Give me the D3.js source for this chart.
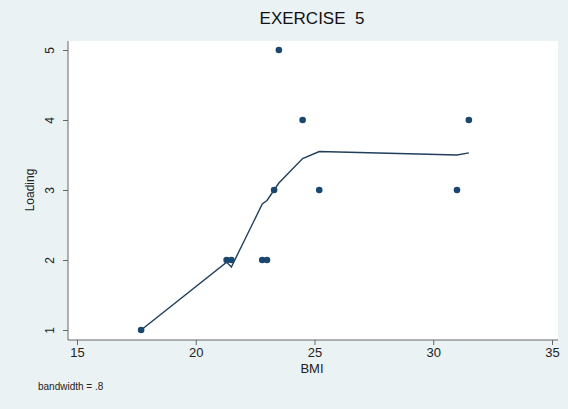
<!DOCTYPE html>
<html><head><meta charset="utf-8">
<script src="https://cdn.jsdelivr.net/npm/d3@7"></script>
<style>body{margin:0;background:#eaf2f4;} svg{display:block;font-family:"Liberation Sans",Arial,sans-serif;}</style>
</head><body>
<svg id="c" width="568" height="409"></svg>
<script>
const bmi =     [17.7, 21.3, 21.5, 22.8, 23.0, 23.3, 23.5, 24.5, 25.2, 31.0, 31.5];
const loading = [1,    2,    2,    2,    2,    3,    5,    4,    3,    3,    4];
const smooth =  [1.0,  1.97, 1.9,  2.8,  2.85, 3.0,  3.1,  3.45, 3.55, 3.5,  3.53];
const xTicks = [15, 20, 25, 30, 35];
const yTicks = [1, 2, 3, 4, 5];

const svg = d3.select("#c");
const x = d3.scaleLinear().domain([15, 35]).range([77, 552]);
const y = d3.scaleLinear().domain([1, 5]).range([330, 50]);

svg.append("rect").attr("width",568).attr("height",409).attr("fill","#eaf2f4");
svg.append("rect").attr("x",68).attr("y",41).attr("width",490).attr("height",299).attr("fill","#ffffff");

svg.append("text").attr("x",312).attr("y",24).attr("text-anchor","middle")
  .style("white-space","pre")
  .attr("font-size",17).attr("fill","#111").text("EXERCISE  5");

const ya = svg.append("g").attr("transform","translate(68,0)")
  .call(d3.axisLeft(y).tickValues(yTicks).tickSize(5).tickFormat(d3.format("d")));
ya.select(".domain").attr("stroke","#666").attr("d","M0,41V340");
ya.selectAll(".tick line").attr("stroke","#666");
ya.selectAll(".tick text").attr("font-size",12).attr("fill","#222")
  .attr("transform","rotate(-90)").attr("x",0).attr("y",-18).attr("dy","0.35em").attr("text-anchor","middle");

const xa = svg.append("g").attr("transform","translate(0,340)")
  .call(d3.axisBottom(x).tickValues(xTicks).tickSize(5).tickFormat(d3.format("d")));
xa.select(".domain").attr("stroke","#666").attr("d","M68,0H558");
xa.selectAll(".tick line").attr("stroke","#666");
xa.selectAll(".tick text").attr("font-size",13).attr("fill","#222").attr("y",8);

svg.append("text").attr("x",312).attr("y",373).attr("text-anchor","middle")
  .attr("font-size",13).attr("fill","#222").text("BMI");
svg.append("text").attr("transform","translate(34,190) rotate(-90)").attr("text-anchor","middle")
  .attr("font-size",12).attr("fill","#222").text("Loading");
svg.append("text").attr("x",38).attr("y",390).attr("font-size",10).attr("fill","#222").text("bandwidth = .8");

const line = d3.line().x((d,i)=>x(bmi[i])).y(d=>y(d));
svg.append("path").attr("d",line(smooth)).attr("fill","none").attr("stroke","#1f3f5c").attr("stroke-width",1.4);

svg.selectAll("circle.pt").data(bmi).join("circle").attr("class","pt")
  .attr("cx",d=>x(d)).attr("cy",(d,i)=>y(loading[i])).attr("r",3.3).attr("fill","#1a476f");
</script>
</body></html>
